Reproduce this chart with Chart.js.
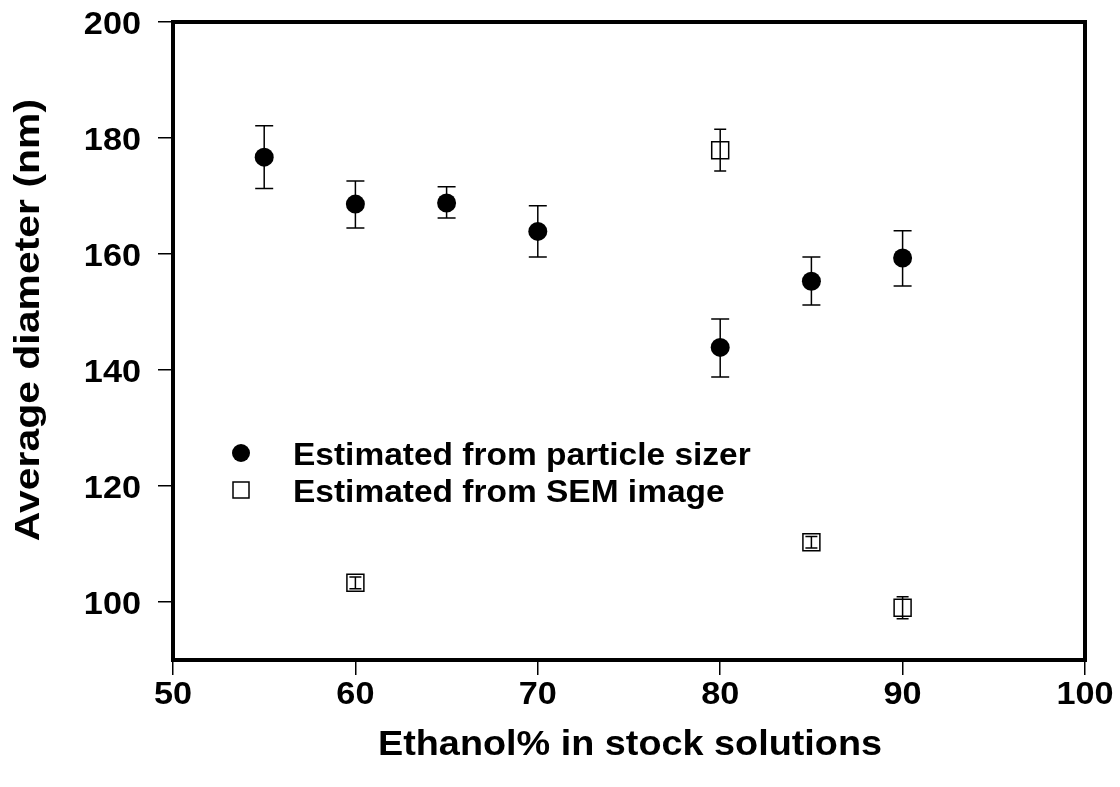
<!DOCTYPE html>
<html>
<head>
<meta charset="utf-8">
<script src="https://cdn.jsdelivr.net/npm/chart.js@4.4.1/dist/chart.umd.min.js"></script>
<style>
  html, body { margin: 0; padding: 0; background: #fff; }
  #wrap { position: relative; width: 1120px; height: 787px; }
</style>
</head>
<body>
<div id="wrap"><canvas id="chart" width="1120" height="787"></canvas></div>
<script>
// Ethanol content of the stock solution (%)
const sizerEthanol = [55, 60, 65, 70, 80, 85, 90];
const sizerDiameter = [176.7, 168.6, 168.8, 163.9, 143.9, 155.3, 159.3];
const sizerErrLow = [171.3, 164.5, 166.2, 159.5, 138.8, 151.2, 154.5];
const sizerErrHigh = [182.1, 172.6, 171.6, 168.3, 148.8, 159.5, 164.0];

const semEthanol = [60, 80, 85, 90];
const semDiameter = [103.3, 177.9, 110.3, 99.0];
const semErrLow = [102.3, 174.3, 109.3, 97.1];
const semErrHigh = [104.3, 181.5, 111.3, 100.9];

const xTicks = [50, 60, 70, 80, 90, 100];
const yTicks = [100, 120, 140, 160, 180, 200];

const legendLabels = ['Estimated from particle sizer', 'Estimated from SEM image'];
const xTitle = 'Ethanol% in stock solutions';
const yTitle = 'Average diameter (nm)';

const FONT = 'Arial, "Liberation Sans", Helvetica, sans-serif';

const toPoints = (xs, ys, lo, hi) =>
  xs.map((x, i) => ({ x, y: ys[i], yMin: lo[i], yMax: hi[i] }));

// bold text, widened along its baseline
function wideText(ctx, text, x, y, size, sx, align, vertical) {
  ctx.save();
  ctx.translate(x, y);
  if (vertical) ctx.rotate(-Math.PI / 2);
  ctx.scale(sx, 1);
  ctx.font = 'bold ' + size + 'px ' + FONT;
  ctx.fillStyle = '#000';
  ctx.textAlign = align;
  ctx.textBaseline = 'alphabetic';
  ctx.fillText(text, 0, 0);
  ctx.restore();
}

// error bars, drawn under the markers
const errorBars = {
  id: 'errorBars',
  beforeDatasetsDraw(chart) {
    const { ctx, scales: { x, y } } = chart;
    ctx.save();
    ctx.strokeStyle = '#000';
    ctx.lineWidth = 1.5;
    chart.data.datasets.forEach((ds) => {
      const cap = ds.capWidth / 2;
      ds.data.forEach((p) => {
        const px = x.getPixelForValue(p.x);
        const top = y.getPixelForValue(p.yMax);
        const bot = y.getPixelForValue(p.yMin);
        ctx.beginPath();
        ctx.moveTo(px, top); ctx.lineTo(px, bot);
        ctx.moveTo(px - cap, top); ctx.lineTo(px + cap, top);
        ctx.moveTo(px - cap, bot); ctx.lineTo(px + cap, bot);
        ctx.stroke();
      });
    });
    ctx.restore();
  },
};

// heavy frame, tick labels and axis titles
const axesDecor = {
  id: 'axesDecor',
  afterDraw(chart) {
    const { ctx, chartArea: a, scales: { x, y } } = chart;
    ctx.save();
    ctx.strokeStyle = '#000';
    ctx.lineWidth = 4;
    ctx.strokeRect(a.left, a.top, a.right - a.left, a.bottom - a.top);
    ctx.restore();

    yTicks.forEach((v) => {
      wideText(ctx, String(v), 141, y.getPixelForValue(v) + 11.5, 32, 1.07, 'right');
    });
    xTicks.forEach((v) => {
      wideText(ctx, String(v), x.getPixelForValue(v), a.bottom + 44, 32, 1.07, 'center');
    });
    wideText(ctx, xTitle, 630, 755, 35, 1.08, 'center');
    wideText(ctx, yTitle, 39, 320, 35, 1.17, 'center', true);
  },
};

// legend placed inside the plot
const innerLegend = {
  id: 'innerLegend',
  afterDraw(chart) {
    const { ctx } = chart;
    ctx.save();
    ctx.fillStyle = '#000';
    ctx.beginPath();
    ctx.arc(241, 453, 9, 0, Math.PI * 2);
    ctx.fill();
    ctx.strokeStyle = '#000';
    ctx.lineWidth = 1.5;
    ctx.strokeRect(233, 482, 16, 16);
    ctx.restore();
    wideText(ctx, legendLabels[0], 293, 465, 31, 1.08, 'left');
    wideText(ctx, legendLabels[1], 293, 502, 31, 1.08, 'left');
  },
};

new Chart(document.getElementById('chart'), {
  type: 'scatter',
  data: {
    datasets: [
      {
        label: legendLabels[0],
        data: toPoints(sizerEthanol, sizerDiameter, sizerErrLow, sizerErrHigh),
        pointStyle: 'circle',
        pointRadius: 9.5,
        backgroundColor: '#000',
        borderColor: '#000',
        borderWidth: 0,
        capWidth: 18,
      },
      {
        label: legendLabels[1],
        data: toPoints(semEthanol, semDiameter, semErrLow, semErrHigh),
        pointStyle: 'rect',
        pointRadius: 12,
        backgroundColor: 'rgba(255,255,255,0)',
        borderColor: '#000',
        borderWidth: 1.5,
        capWidth: 12,
      },
    ],
  },
  options: {
    responsive: false,
    animation: false,
    events: [],
    layout: { padding: { top: 22, right: 35, left: 0, bottom: 0 } },
    plugins: { legend: { display: false }, tooltip: { enabled: false } },
    scales: {
      x: {
        type: 'linear',
        min: 50,
        max: 100,
        afterBuildTicks: (s) => { s.ticks = xTicks.map((v) => ({ value: v })); },
        afterFit: (s) => { s.height = 127; },
        border: { display: false },
        grid: { drawOnChartArea: false, tickLength: 15, color: '#000', lineWidth: 1.5 },
        ticks: { display: false },
      },
      y: {
        type: 'linear',
        min: 90,
        max: 200,
        afterBuildTicks: (s) => { s.ticks = yTicks.map((v) => ({ value: v })); },
        afterFit: (s) => { s.width = 173; },
        border: { display: false },
        grid: { drawOnChartArea: false, tickLength: 15, color: '#000', lineWidth: 1.5 },
        ticks: { display: false },
      },
    },
  },
  plugins: [errorBars, axesDecor, innerLegend],
});
</script>
</body>
</html>
